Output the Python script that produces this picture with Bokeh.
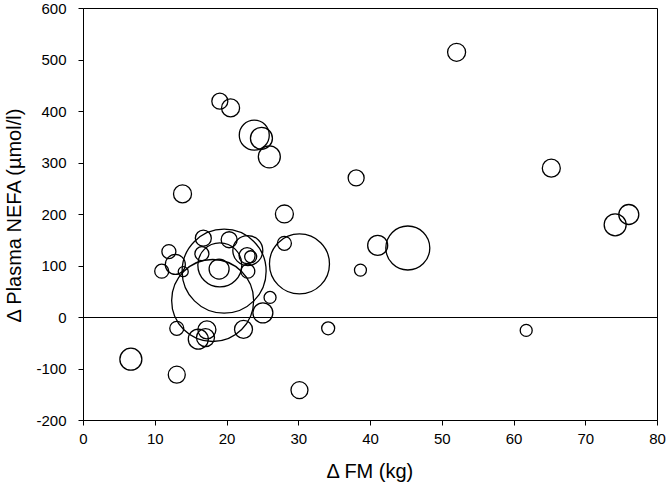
from bokeh.plotting import figure
from bokeh.models import ColumnDataSource, Span, FixedTicker, Range1d
from bokeh.embed import file_html
from bokeh.resources import INLINE

# Δ FM (kg)
delta_fm = [52.0, 65.2, 74.1, 76.0, 38.0, 41.0, 45.2, 38.6, 34.1, 61.7,
            30.1, 28.0, 28.0, 26.0, 25.0, 22.3, 17.2, 16.0, 17.0, 13.0,
            6.6, 13.0, 30.1, 18.0, 19.6, 19.0, 18.9, 11.9, 10.9, 12.8,
            13.9, 16.7, 20.3, 16.5, 22.9, 22.8, 23.3, 22.9, 13.8, 23.8,
            24.8, 25.9, 19.0, 20.5]
# Δ Plasma NEFA (µmol/l)
delta_nefa = [515, 290, 180, 200, 271, 140, 135, 92, -21, -25,
              104, 144, 201, 39, 9, -23, -24, -42, -39, -21,
              -81, -111, -141, 33, 90, 102, 94, 128, 90, 103,
              89, 154, 151, 124, 130, 120, 118, 90, 240, 354,
              348, 312, 420, 407]
# bubble magnitude (third variable, arbitrary units)
bubble = [9, 9, 11, 10, 8, 10, 22, 6, 6.5, 6,
          30, 7, 9, 6, 10, 9, 9, 10, 9, 7,
          11, 8.5, 8.5, 41, 42, 22, 10, 7, 7, 10,
          5, 8, 8, 7, 15, 8, 6, 7, 9, 15,
          11, 11, 8, 9]

x_ticks = [0, 10, 20, 30, 40, 50, 60, 70, 80]
y_ticks = [-200, -100, 0, 100, 200, 300, 400, 500, 600]
y_tick_labels = ["-200", "-100", "0", "100", "200", "300", "400", "500", "600"]

SIZE_SCALE = 2.0
src = ColumnDataSource(dict(x=delta_fm, y=delta_nefa,
                            s=[b * SIZE_SCALE for b in bubble]))

FONT = "Liberation Sans"

p = figure(width=666, height=486, output_backend="svg", toolbar_location=None,
           x_range=Range1d(0, 80), y_range=Range1d(-200, 600),
           min_border_left=80, min_border_right=9, min_border_top=8,
           min_border_bottom=66)
p.background_fill_color = "white"
p.border_fill_color = "white"
p.outline_line_color = "black"
p.outline_line_width = 1
p.xgrid.visible = False
p.ygrid.visible = False

p.scatter("x", "y", size="s", source=src, marker="circle",
          fill_color=None, line_color="black", line_width=1.3)

p.add_layout(Span(location=0, dimension="width", line_color="black", line_width=1.2))

for ax, ticks in ((p.xaxis[0], x_ticks), (p.yaxis[0], y_ticks)):
    ax.ticker = FixedTicker(ticks=ticks)
    ax.minor_tick_line_color = None
    ax.major_tick_in = 0
    ax.major_tick_out = 5
    ax.axis_line_color = "black"
    ax.major_tick_line_color = "black"
    ax.major_label_text_font = FONT
    ax.major_label_text_font_size = "15px"
    ax.major_label_text_color = "black"
    ax.axis_label_text_font = FONT
    ax.axis_label_text_font_size = "20px"
    ax.axis_label_text_font_style = "normal"
    ax.axis_label_text_color = "black"

p.yaxis.major_label_overrides = dict(zip(y_ticks, y_tick_labels))
p.xaxis.axis_label = "Δ FM (kg)"
p.yaxis.axis_label = "Δ Plasma NEFA (µmol/l)"
p.xaxis.major_label_standoff = 8
p.yaxis.major_label_standoff = 12
p.xaxis.axis_label_standoff = 13
p.yaxis.axis_label_standoff = 8

open("out.html", "w").write(file_html(p, INLINE))
